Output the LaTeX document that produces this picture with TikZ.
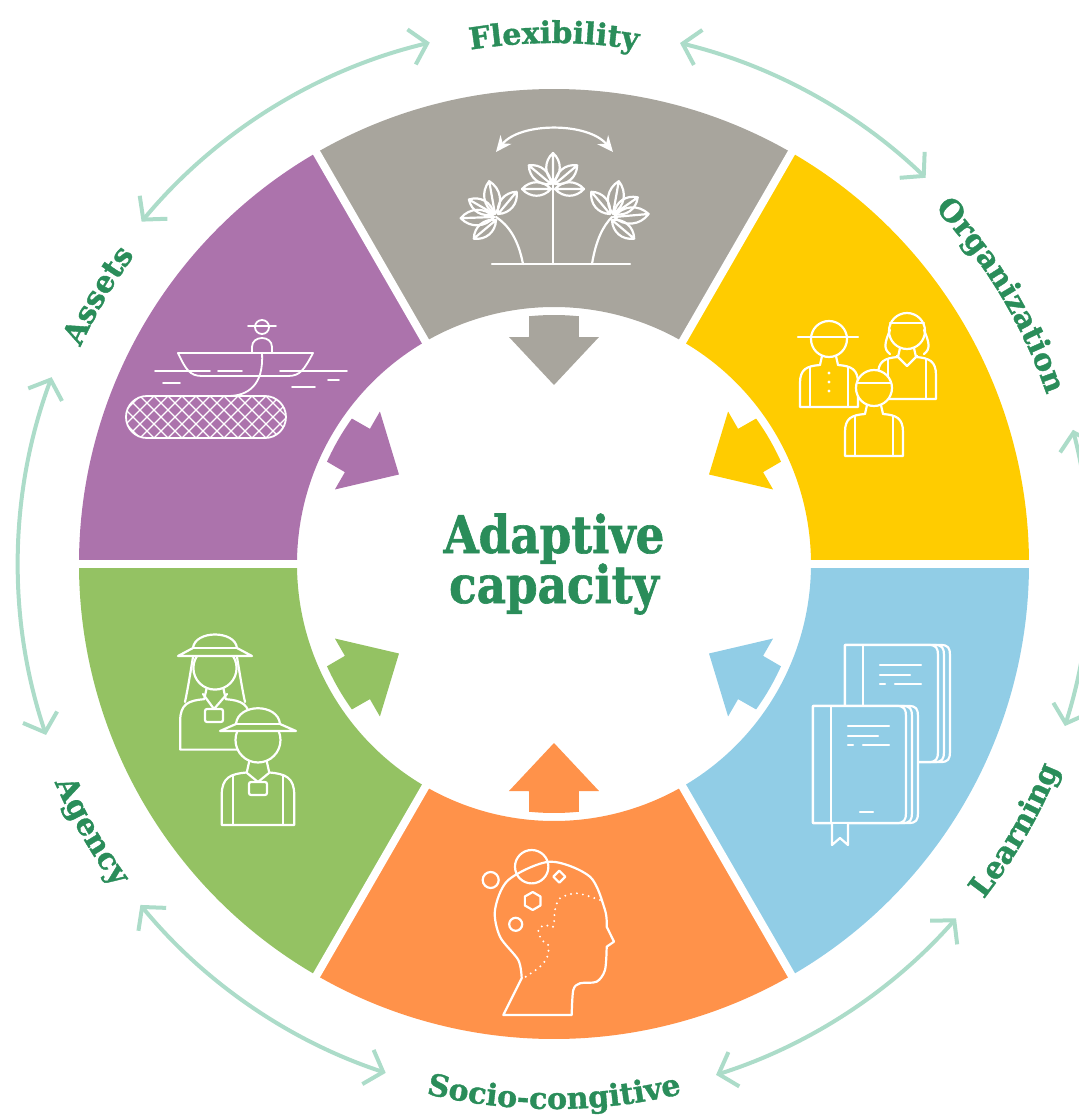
\documentclass[tikz,border=0pt]{standalone}
\usepackage{fontspec}
\usepackage{tikz}
\usetikzlibrary{arrows.meta,decorations.text}

\newfontfamily\slabfont[BoldFeatures={FakeBold=1.2}]{DejaVu Serif}
\newfontfamily\titlefont[FakeStretch=0.87, BoldFeatures={FakeBold=1.2}]{DejaVu Serif}

\definecolor{flexgray}{HTML}{A8A59D}
\definecolor{orgyellow}{HTML}{FFCC00}
\definecolor{learnblue}{HTML}{91CDE6}
\definecolor{socorange}{HTML}{FF924A}
\definecolor{agencygreen}{HTML}{94C263}
\definecolor{assetpurple}{HTML}{AC73AC}
\definecolor{labgreen}{HTML}{2A8D5A}
\definecolor{linkteal}{HTML}{ACDCC9}

\newcommand\ringlabel{\slabfont\bfseries\fontsize{15pt}{15pt}\selectfont\color{labgreen}}

\tikzset{
  ico/.style={draw=white, line width=1.1pt, line cap=round, line join=round},
  linkarrow/.style={draw=linkteal, line width=2pt,
    {Straight Barb[length=8pt,width=18pt]}-{Straight Barb[length=8pt,width=18pt]}},
  toplabel/.style={decorate, decoration={text along path, text align=center, text={|\ringlabel|#1}}},
  % pics are drawn with y pointing down, like the icons around them
  down/.style={yscale=-1},
  % one leaf, pointing along +x
  leaf/.pic={
    \draw[ico] (0,0) .. controls (8,-9) and (21,-9) .. (29,0) .. controls (21,9) and (8,9) .. (0,0) -- (29,0);
  },
  % head and shoulders, head centre at (0,0)
  bust/.pic={
    \draw[ico, fill=#1] (-7,17) -- (-9,26) .. controls (-22,27) and (-29,30) .. (-29,44) -- (-29,68)
      -- (29,68) -- (29,44) .. controls (29,30) and (22,27) .. (9,26) -- (7,17);
    \draw[ico, fill=#1] (0,0) circle[radius=18];
  },
  % closed book with page edges, top left corner at (0,0)
  book/.pic={
    \draw[ico, fill=#1] (0,0) -- (96,0) .. controls (103,0) and (105,3) .. (105,10) -- (105,107)
      .. controls (105,114) and (103,117) .. (96,117) -- (0,117) -- cycle;
    \draw[ico, fill=#1] (0,0) -- (90,0) .. controls (97,0) and (99,3) .. (99,10) -- (99,107)
      .. controls (99,114) and (97,117) .. (90,117) -- (0,117) -- cycle;
    \draw[ico, fill=#1] (0,0) -- (84,0) .. controls (91,0) and (93,3) .. (93,10) -- (93,107)
      .. controls (93,114) and (91,117) .. (84,117) -- (0,117) -- cycle;
    \draw[ico] (18,0) -- (18,117);
    \draw[ico] (35,20) -- (76,20) (35,30) -- (65,30) (35,39) -- (40,39) (50,39) -- (76,39) (47,106) -- (60,106);
  },
}

\begin{document}
\begin{tikzpicture}[x=0.5pt, y=0.5pt]
\useasboundingbox (-554,-551) rectangle (525,564);

% ring sectors
\foreach \a/\col in {60/flexgray, 0/orgyellow, -60/learnblue, -120/socorange, 180/agencygreen, 120/assetpurple}
  \fill[\col] (\a:257) arc[start angle=\a, end angle=\a+60, radius=257]
    -- ({\a+60}:475) arc[start angle=\a+60, end angle=\a, radius=475] -- cycle;
\foreach \a in {0,60,...,300}
  \draw[white, line width=4pt] (\a:245) -- (\a:480);

% inward arrows
\foreach \a/\col in {90/flexgray, 30/orgyellow, -30/learnblue, -90/socorange, -150/agencygreen, 150/assetpurple}
  \fill[\col, rotate=\a-90] (95.74:249) arc[start angle=95.74, end angle=84.26, radius=249]
    -- (25,227) -- (45,227) -- (0,179) -- (-45,227) -- (-25,227) -- cycle;

% links between the outer labels
\foreach \s/\e in {140.3/103.4, 76.4/46.1, 14.5/-17.6, -41.4/-72.4, -108.3/-140.5, -161.4/-200.4}
  \draw[linkarrow] (\s:536) arc[start angle=\s, end angle=\e, radius=536];

% outer labels
\path[toplabel=Flexibility] (120:521) arc[start angle=120, end angle=60, radius=521];
\path[toplabel=Organization] (61:521) arc[start angle=61, end angle=1, radius=521];
\path[toplabel=Assets] (179.5:521) arc[start angle=179.5, end angle=119.5, radius=521];
\path[toplabel=Learning] (-60:545) arc[start angle=-60, end angle=0, radius=545];
\path[toplabel=Socio-congitive] (-120:545) arc[start angle=-120, end angle=-60, radius=545];
\path[toplabel=Agency] (-180:545) arc[start angle=-180, end angle=-120, radius=545];

% centre title
\node (adapt) [anchor=base, text=labgreen, font=\titlefont\bfseries\fontsize{26pt}{26pt}\selectfont] at (0,11) {Adaptive};
\node (capac) [anchor=base, text=labgreen, font=\titlefont\bfseries\fontsize{26pt}{26pt}\selectfont] at (0,-39) {capacity};

% icons, in pixel coordinates with y pointing down
\begin{scope}[shift={(-554,564)}, yscale=-1]
  % flexibility: plants swaying
  \draw[ico] (492,264) -- (630,264);
  \draw[ico] (553,264) -- (553,182);
  \pic[down, rotate=-90] at (553,182) {leaf};
  \pic[down, rotate=-140] at (551,184) {leaf};
  \pic[down, rotate=-40] at (555,184) {leaf};
  \pic[down, rotate=180] at (551,189) {leaf};
  \pic[down] at (555,189) {leaf};
  \draw[ico] (523,264) .. controls (518,238) and (508,225) .. (496,217);
  \pic[down, rotate=-100, scale=1.15] at (495,214) {leaf};
  \pic[down, rotate=-150] at (494,214) {leaf};
  \pic[down, rotate=178, scale=1.15] at (494,217) {leaf};
  \pic[down, rotate=140] at (496,220) {leaf};
  \pic[down, rotate=-50] at (498,214) {leaf};
  \draw[ico] (592,264) .. controls (596,240) and (603,226) .. (612,217);
  \pic[down, rotate=-80, scale=1.15] at (613,214) {leaf};
  \pic[down, rotate=-35] at (614,214) {leaf};
  \pic[down, rotate=-5, scale=1.2] at (614,217) {leaf};
  \pic[down, rotate=40] at (612,220) {leaf};
  \pic[down, rotate=-130] at (610,214) {leaf};
  \draw[ico, {Stealth[length=8pt,width=7pt]}-{Stealth[length=8pt,width=7pt]}]
    (496,152) .. controls (520,122) and (588,122) .. (613,152);

  % organization: three people
  \pic[down] at (829,339) {bust=none};
  \draw[ico] (798,337) -- (858,337);
  \draw[ico] (810,367) -- (810,407) (848,367) -- (848,407);
  \foreach \y in {373,382,391} \fill[white] (829,\y) circle[radius=1.7];
  \pic[down] at (907,331) {bust=none};
  \draw[ico] (890,323) -- (924,323);
  \draw[ico] (890,330) .. controls (885,342) and (883,349) .. (890,354);
  \draw[ico] (924,330) .. controls (929,342) and (931,349) .. (924,354);
  \draw[ico] (897,356) -- (907,366) -- (917,356);
  \draw[ico] (888,359) -- (888,399) (926,359) -- (926,399);
  \pic[down] at (874,388) {bust=orgyellow};
  \draw[ico] (857,383) -- (891,383);
  \draw[ico] (855,416) -- (855,456) (893,416) -- (893,456);

  % learning: two books
  \pic[down] at (845,645) {book=learnblue};
  \pic[down] at (813,706) {book=learnblue};
  \draw[ico, fill=learnblue] (832,824) -- (832,845) -- (840,838) -- (848,845) -- (848,824);

  % socio-cognitive: head with thoughts
  \draw[ico] (503.3,1015) -- (521.7,978.3)
    -- plot[smooth] coordinates {(521.7,978.3) (518.3,960) (500,936.7) (495,910) (508.3,880) (550,861.7) (590,876.7) (605,910) (606.7,926.7)}
    -- (614,941.7) -- (606.7,946.7)
    -- plot[smooth] coordinates {(606.7,946.7) (605,970) (596.7,981.7) (580,983.3) (573.3,990) (571.7,1015)}
    -- cycle;
  \draw[ico] (531.7,866.7) circle[radius=16.7];
  \draw[ico] (490.7,880) circle[radius=8];
  \draw[ico] (515.7,924.3) circle[radius=6.5];
  \draw[ico] (532.7,892) -- (540.5,896.5) -- (540.5,905.5) -- (532.7,910) -- (524.9,905.5) -- (524.9,896.5) -- cycle;
  \draw[ico] (559.3,870.7) -- (565.3,876.7) -- (559.3,882.7) -- (553.3,876.7) -- cycle;
  \draw[ico, dash pattern=on 0pt off 3pt]
    plot[smooth] coordinates {(600,900) (576.7,893.3) (560,898.3) (555,910) (553.3,926.7) (545,925) (538.3,930) (541.7,940) (548.3,945) (547.3,956.7) (540,966.7) (523.3,978.3)};

  % agency: two people with hats and badges
  \pic[down, scale=1.2] at (215,668) {bust=none};
  \draw[ico] (193,657) .. controls (190,675) and (188,688) .. (185,702);
  \draw[ico] (237,657) .. controls (240,675) and (242,688) .. (245,702);
  \draw[ico, fill=agencygreen] (178,656) -- (193,648) .. controls (195,630) and (235,630) .. (237,648) -- (252,656) -- cycle;
  \draw[ico] (193,648) -- (237,648);
  \draw[ico] (203,694) -- (214,709) -- (227,694);
  \draw[ico, rounded corners=1pt] (205,709) rectangle (223,722);
  \pic[down, scale=1.25] at (258,740) {bust=agencygreen};
  \draw[ico, fill=agencygreen] (220,731) -- (236,724) .. controls (238,703) and (278,703) .. (280,724) -- (296,731) -- cycle;
  \draw[ico] (236,724) -- (280,724);
  \draw[ico] (233,775) -- (233,825) (283,775) -- (283,825);
  \draw[ico] (247,773) -- (258,782) -- (269,773);
  \draw[ico, rounded corners=1pt] (249,782) rectangle (267,795);

  % assets: fisher in a boat with a net
  \begin{scope}[ico/.append style={line width=0.9pt}]
    \draw[ico] (262,327) circle[radius=7];
    \draw[ico] (248,326) -- (276,326);
    \draw[ico] (252,353) -- (252,347) .. controls (252,335) and (272,335) .. (272,347) -- (272,353);
    \draw[ico] (178,353) -- (313,353);
    \draw[ico] (178,353) .. controls (186,370) and (190,376) .. (202,376) -- (288,376)
      .. controls (300,376) and (304,370) .. (313,353);
    \draw[ico] (155,371) -- (210,371) (218,371) -- (242,371) (280,371) -- (347,371)
      (163,383) -- (180,383) (292,387) -- (315,387) (328,380) -- (339,380);
    \draw[ico] (262,353) .. controls (264,385) and (248,396) .. (228,396);
    \begin{scope}
      \clip[rounded corners=10.5pt] (126,396) rectangle (286,438);
      \foreach \x in {84,98,...,330}
        \draw[ico, line width=0.7pt] (\x,396) -- ++(42,42) (\x,396) -- ++(-42,42);
    \end{scope}
    \draw[ico, rounded corners=10.5pt] (126,396) rectangle (286,438);
  \end{scope}
\end{scope}
\end{tikzpicture}
\end{document}
